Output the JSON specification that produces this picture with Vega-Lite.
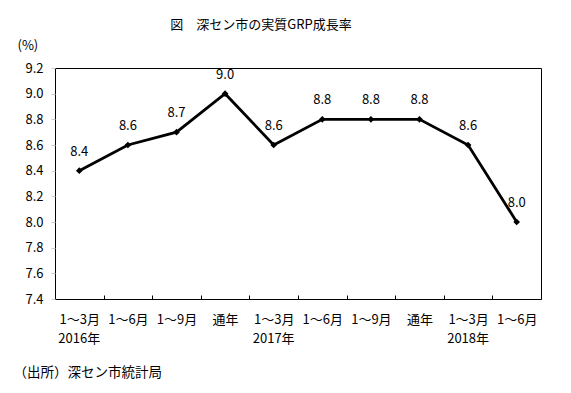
{
  "$schema": "https://vega.github.io/schema/vega-lite/v6.json",
  "width": 486,
  "height": 231,
  "autosize": {"type": "none"},
  "padding": {"left": 55, "top": 68, "right": 30, "bottom": 94},
  "background": "white",
  "config": {
    "font": "Noto Sans CJK JP",
    "view": {"stroke": "black", "strokeWidth": 1},
    "axis": {"labelColor": "black", "titleColor": "black", "labelFont": "Noto Sans CJK JP", "titleFont": "Noto Sans CJK JP", "titleFontWeight": "normal"}
  },
  "title": {
    "text": "図　深セン市の実質GRP成長率",
    "anchor": "middle",
    "frame": "group",
    "dx": -37,
    "offset": 7,
    "fontSize": 13,
    "fontWeight": "normal",
    "color": "black"
  },
  "data": {
    "values": [
      {"cat": "1～3月|2016年", "rate": 8.4},
      {"cat": "1～6月||2016", "rate": 8.6},
      {"cat": "1～9月||2016", "rate": 8.7},
      {"cat": "通年||2016", "rate": 9.0},
      {"cat": "1～3月|2017年", "rate": 8.6},
      {"cat": "1～6月||2017", "rate": 8.8},
      {"cat": "1～9月||2017", "rate": 8.8},
      {"cat": "通年||2017", "rate": 8.8},
      {"cat": "1～3月|2018年", "rate": 8.6},
      {"cat": "1～6月||2018", "rate": 8.0}
    ]
  },
  "encoding": {
    "y": {
      "field": "rate",
      "type": "quantitative",
      "scale": {"domain": [7.4, 9.2], "nice": false, "zero": false},
      "axis": {
        "title": "(%)",
        "titleAngle": 0,
        "titleAlign": "left",
        "titleBaseline": "middle",
        "titleX": -38,
        "titleY": -23,
        "titleFontSize": 13,
        "values": [7.4, 7.6, 7.8, 8.0, 8.2, 8.4, 8.6, 8.8, 9.0, 9.2],
        "format": ".1f",
        "labelFontSize": 13,
        "labelPadding": 8,
        "tickSize": 4,
        "tickColor": "#cccccc",
        "grid": false,
        "domain": false
      }
    }
  },
  "layer": [
    {
      "mark": {"type": "line", "color": "black", "strokeWidth": 2.8},
      "encoding": {
        "x": {
          "field": "cat",
          "type": "ordinal",
          "sort": null,
          "scale": {"paddingInner": 0, "paddingOuter": 0},
          "axis": {
            "orient": "bottom",
            "offset": -4,
            "title": "（出所）深セン市統計局",
            "titleAnchor": "start",
            "titleAlign": "left",
            "titleX": -42,
            "titleY": 77,
            "titleBaseline": "middle",
            "titleFontSize": 13.5,
            "labelAngle": 0,
            "labelFontSize": 13,
            "labelOverlap": false,
            "labelPadding": 14,
            "labelExpr": "datum.value ? split(datum.value,'|')[0] : ''",
            "ticks": true,
            "tickSize": 4,
            "tickColor": "black",
            "tickBand": "extent",
            "domain": false
          }
        }
      }
    },
    {
      "mark": {"type": "point", "shape": "diamond", "filled": true, "color": "black", "size": 45, "opacity": 1},
      "encoding": {
        "x": {
          "field": "cat",
          "type": "ordinal",
          "sort": null,
          "scale": {"paddingInner": 0, "paddingOuter": 0},
          "axis": {
            "orient": "bottom",
            "offset": 19,
            "title": null,
            "labelAngle": 0,
            "labelFontSize": 13,
            "labelOverlap": false,
            "labelPadding": 14,
            "labelExpr": "datum.value ? split(datum.value,'|')[1] : ''",
            "ticks": false,
            "domain": false
          }
        }
      }
    },
    {
      "mark": {"type": "text", "dy": -19, "fontSize": 13, "color": "black"},
      "encoding": {
        "x": {"field": "cat", "type": "ordinal", "sort": null, "axis": null},
        "text": {"field": "rate", "type": "quantitative", "format": ".1f"}
      }
    }
  ],
  "resolve": {"axis": {"x": "independent"}}
}
